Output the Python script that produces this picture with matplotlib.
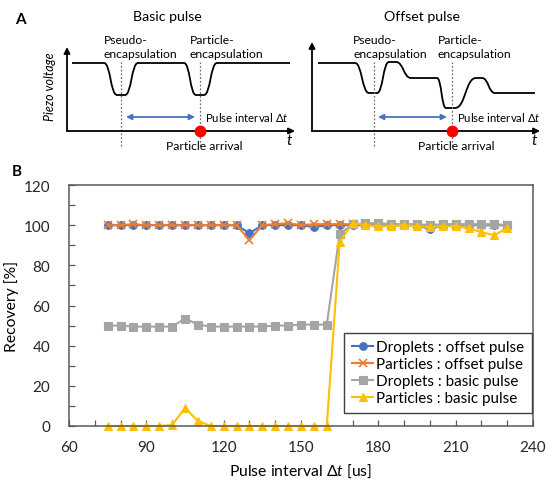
import numpy as np
import matplotlib
matplotlib.use("Agg")
import matplotlib.pyplot as plt
from matplotlib.path import Path
from matplotlib.patches import PathPatch
from matplotlib.ticker import MultipleLocator

plt.rcParams['font.family'] = ['Lato', 'DejaVu Sans']
plt.rcParams['mathtext.fontset'] = 'custom'
plt.rcParams['mathtext.it'] = 'Lato:italic'
plt.rcParams['mathtext.rm'] = 'Lato'

# --- data (panel B)
interval = list(range(75, 235, 5))
drop_offset = [100, 100, 100, 100, 100, 100, 100, 100, 100, 100, 100, 96,
               100, 100, 100, 100, 99, 100, 100, 100, 100, 100, 100, 100,
               100, 98, 100, 100, 100, 100, 100, 100]
part_offset = [100, 100, 100.5, 100, 100, 100, 100, 100, 100, 100, 100, 92.5,
               100, 100.5, 101, 100, 100.5, 100.5, 100.5, 100.5, 100.5, 100.5, 100, 100,
               100, 100, 100, 100, 100, 100, 100, 100]
drop_basic = [50, 50, 49.5, 49.5, 49.5, 49.5, 53.5, 50.5, 49.5, 49.5, 49.5, 49.5,
              49.5, 50, 50, 50.5, 50.5, 50.5, 95.5, 100.5, 101, 101, 100.5, 100.5,
              100.5, 100, 100.5, 100.5, 100.5, 100.5, 100.5, 100]
part_basic = [0, 0, 0, 0, 0, 0.5, 9, 2.5, 0, 0, 0, 0,
              0, 0, 0, 0, 0, 0, 91.5, 101, 100, 99.5, 99.5, 100,
              99.5, 99, 99.5, 99.5, 98.5, 96.5, 95, 98.5]

series_labels = ["Droplets : offset pulse", "Particles : offset pulse",
                 "Droplets : basic pulse", "Particles : basic pulse"]

# --- schematic waveforms (panel A), knots (t, v) in schematic px units
basic_knots = [(5, 68), (37, 68), (50, 36), (58, 36), (71, 68), (117, 68),
               (129, 36), (137, 36), (150, 68), (223, 68)]
offset_knots = [(6, 68), (43, 68), (57, 38), (65, 38), (77, 69), (84, 69),
                (99, 53), (125, 53), (134, 23), (143, 23), (164, 53), (170, 53),
                (183, 38), (223, 38)]

W, H = 546, 481
fig = plt.figure(figsize=(W/100, H/100), dpi=100)

def px_axes(x0, y0, w, h):
    # axes placed in figure pixels, origin at (x0, y0) = bottom-left, top-down y
    ax = fig.add_axes([x0/W, (H-y0)/H, w/W, h/H])
    ax.set_xlim(0, w)
    ax.set_ylim(0, h)
    ax.axis("off")
    return ax

def smooth_path(knots):
    verts = [knots[0]]
    codes = [Path.MOVETO]
    for (t0, v0), (t1, v1) in zip(knots[:-1], knots[1:]):
        if v0 == v1:
            verts.append((t1, v1))
            codes.append(Path.LINETO)
        else:
            dt = (t1 - t0)/2
            verts += [(t0+dt, v0), (t1-dt, v1), (t1, v1)]
            codes += [Path.CURVE4]*3
    return Path(verts, codes)

def schematic(ax, knots, title, title_t, ytop, dash_t, arrow_t, txt_left):
    arr = dict(arrowstyle="-|>", color="black", lw=1.3, mutation_scale=9, shrinkA=0, shrinkB=0)
    ax.annotate("", xy=(0, ytop), xytext=(0, 0), arrowprops=arr, annotation_clip=False)
    ax.annotate("", xy=(228, 0), xytext=(0, 0), arrowprops=arr, annotation_clip=False)
    ax.add_patch(PathPatch(smooth_path(knots), fill=False, lw=1.3, color="black", clip_on=False))
    for t in dash_t:
        ax.plot([t, t], [-15, 69], ls=(0, (1.5, 1.5)), lw=0.9, color="#707070", clip_on=False)
    ax.annotate("", xy=(arrow_t[1], 14), xytext=(arrow_t[0], 14),
                arrowprops=dict(arrowstyle="<|-|>", color="#4472C4", lw=1.3,
                                mutation_scale=8, shrinkA=0, shrinkB=0), annotation_clip=False)
    ax.text(arrow_t[1] + 10, 14, r"Pulse interval $\Delta t$", fontsize=8.2, va="center", ha="left")
    ax.plot([dash_t[1]], [0], "o", color="#FF0000", ms=7.5, clip_on=False, zorder=5)
    ax.text(dash_t[1] + 4, -14, "Particle arrival", fontsize=8.7, va="center", ha="center")
    ax.text(222, -9, "t", fontsize=11, style="italic", va="center", ha="center")
    ax.text(title_t, 115, title, fontsize=10.2, ha="center", va="center")
    ax.text(txt_left[0], 72, "Pseudo-\nencapsulation", fontsize=8.7, ha="left", va="bottom", linespacing=1.3)
    ax.text(txt_left[1], 72, "Particle-\nencapsulation", fontsize=8.7, ha="left", va="bottom", linespacing=1.3)

axA1 = px_axes(67, 132, 230, 90)
schematic(axA1, basic_knots, "Basic pulse", 100, 84, [54, 133], [59, 128], [37, 123])
axA1.text(-17, 45, "Piezo voltage", fontsize=9, style="italic", rotation=90, ha="center", va="center")
axA1.text(-47, 112, "A", fontsize=11, fontweight="bold", ha="center", va="center")

axA2 = px_axes(312, 132, 230, 90)
schematic(axA2, offset_knots, "Offset pulse", 110, 89, [62, 140], [66, 135], [41, 126])

# --- panel B
ax = fig.add_axes([69/W, (H-427)/H, 464/W, 241/H])
colors = ["#4472C4", "#ED7D31", "#A5A5A5", "#FFC000"]
markers = ["o", "x", "s", "^"]
sizes = [5.5, 6, 5.5, 6]
for ys, c, m, s, lab in zip([drop_offset, part_offset, drop_basic, part_basic],
                            colors, markers, sizes, series_labels):
    ax.plot(interval, ys, color=c, marker=m, ms=s, lw=1.5, label=lab,
            mew=1.2 if m == "x" else 0.8, clip_on=False)

ax.set_xlim(60, 240)
ax.set_ylim(0, 120)
ax.xaxis.set_major_locator(MultipleLocator(30))
ax.xaxis.set_minor_locator(MultipleLocator(10))
ax.yaxis.set_major_locator(MultipleLocator(20))
ax.yaxis.set_minor_locator(MultipleLocator(10))
ax.tick_params(axis="both", which="both", direction="in", length=4.5, width=0.9,
               color="#595959", labelsize=11, labelcolor="#262626")
ax.tick_params(axis="y", which="both", pad=13.5)
ax.tick_params(axis="x", which="both", pad=10)
ax.tick_params(top=False, right=False)
for sp in ax.spines.values():
    sp.set_color("#595959")
    sp.set_linewidth(1.1)

ax.set_ylabel("Recovery [%]", fontsize=11.3, labelpad=3)
ax.set_xlabel(r"Pulse interval $\Delta t$ [us]", fontsize=11.3, labelpad=6)

leg = ax.legend(loc="lower right", bbox_to_anchor=(0.998, 0.054), borderaxespad=0,
                fontsize=11, fancybox=False, edgecolor="#404040", framealpha=1,
                handlelength=1.4, handletextpad=0.2, labelspacing=0.2, borderpad=0.5)
leg.get_frame().set_linewidth(1.0)

fig.text(17/W, 1 - 172/H, "B", fontsize=11, fontweight="bold", ha="center", va="center")

fig.savefig("out.png", dpi=100)
